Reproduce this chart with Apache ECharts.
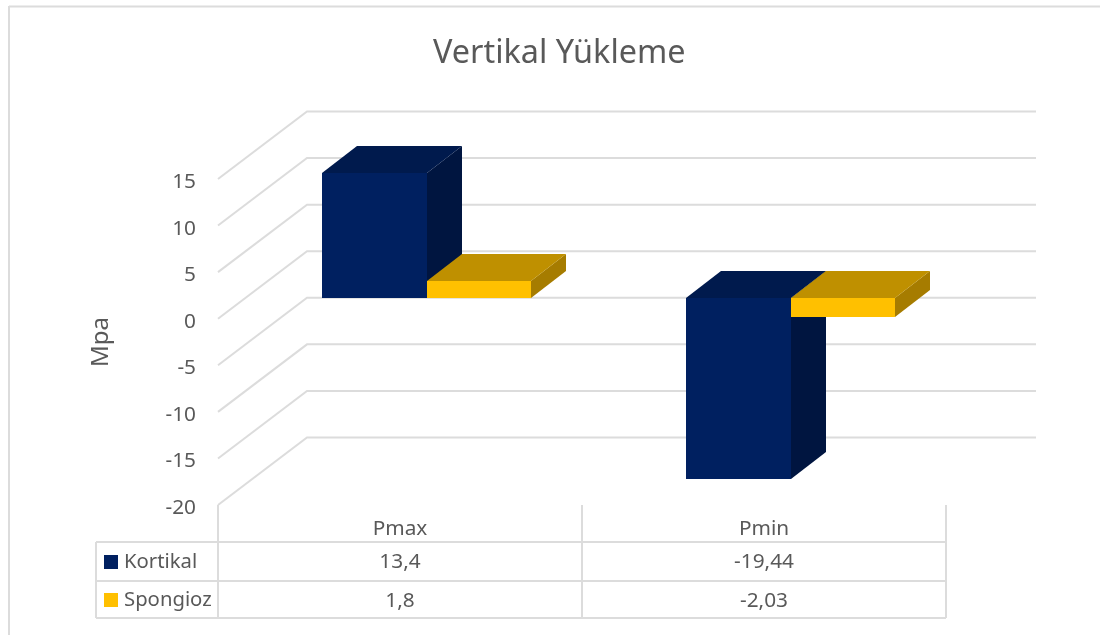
<!DOCTYPE html>
<html>
<head>
<meta charset="utf-8">
<style>html,body{margin:0;padding:0;background:#fff}#c{width:1100px;height:635px}</style>
<script src="https://cdn.jsdelivr.net/npm/echarts@6/dist/echarts.min.js"></script>
</head>
<body>
<div id="c"></div>
<script>
const categories = ['Pmax', 'Pmin'];
const kortikal = [13.4, -19.44];
const spongioz = [1.8, -2.03];
const seriesNames = ['Kortikal', 'Spongioz'];
const yTicks = [15, 10, 5, 0, -5, -10, -15, -20];

const FONT = '"Noto Sans", sans-serif';
const TEXT = '#595959', LINE = '#dcdcdc';
const LABEL_SIZE = 20.8;
const G = {left: 218, right: 946, top: 179, bottom: 505};
const WALL = {dx: 89, dy: 67.5, rightExt: 1036};
const BAR = {widthFrac: 0.2875, frontDx: 26.5, frontDy: 20.5, dx: 35, dy: 27};
const TABLE = {left: 96, head: 542, r1: 581, r2: 618, text1: 562, text2: 601};
const fmt = v => String(v).replace('.', ',');

function wall(params, api) {
  const y = api.coord([0, api.value(1)])[1];
  return {type: 'polyline', silent: true,
    shape: {points: [[G.left, y], [G.left + WALL.dx, y - WALL.dy], [WALL.rightExt, y - WALL.dy]]},
    style: {stroke: LINE, lineWidth: 2, fill: null}};
}
function bar3d(colors, side) {
  return function (params, api) {
    const cat = api.value(0), v = api.value(1);
    const c = api.coord([cat, 0]);
    const w = api.size([1, 0])[0] * BAR.widthFrac;
    const x0 = Math.round(c[0] + BAR.frontDx + (side < 0 ? -w : 0)), x1 = Math.round(c[0] + BAR.frontDx + (side < 0 ? 0 : w));
    const yv = Math.round(api.coord([cat, v])[1] - BAR.frontDy);
    const y0 = Math.round(c[1] - BAR.frontDy);
    const top = Math.min(y0, yv), bot = Math.max(y0, yv);
    const d = BAR.dx, e = BAR.dy;
    const poly = (pts, fill) => ({type: 'polygon', shape: {points: pts}, style: {fill: fill, stroke: null}});
    return {type: 'group', children: [
      poly([[x1, top], [x1 + d, top - e], [x1 + d, bot - e], [x1, bot]], colors[2]),
      poly([[x0, top], [x0 + d, top - e], [x1 + d, top - e], [x1, top]], colors[1]),
      poly([[x0, top], [x1, top], [x1, bot], [x0, bot]], colors[0])
    ]};
  };
}
const seg = (x1, y1, x2, y2) => ({type: 'line', silent: true, z: 1,
  shape: {x1, y1, x2, y2}, style: {stroke: LINE, lineWidth: 2}});
const txt = (t, x, y) => ({type: 'text', silent: true, z: 2, x, y,
  style: {text: t, fill: TEXT, font: LABEL_SIZE + 'px ' + FONT, textAlign: 'center', textVerticalAlign: 'middle'}});

const band = (G.right - G.left) / categories.length;
const cx = i => G.left + band * (i + 0.5);
const graphics = [
  {type: 'line', silent: true, z: 1, shape: {x1: 9, y1: 6, x2: 9, y2: 635}, style: {stroke: LINE, lineWidth: 2}},
  {type: 'line', silent: true, z: 1, shape: {x1: 9, y1: 6.5, x2: 1100, y2: 6.5}, style: {stroke: LINE, lineWidth: 2}},
  seg(TABLE.left, TABLE.head, G.right, TABLE.head),
  seg(TABLE.left, TABLE.r1, G.right, TABLE.r1),
  seg(TABLE.left, TABLE.r2, G.right, TABLE.r2),
  seg(TABLE.left, TABLE.head, TABLE.left, TABLE.r2),
  seg(G.left, G.bottom, G.left, TABLE.r2),
  seg(G.left + band, G.bottom, G.left + band, TABLE.r2),
  seg(G.right, G.bottom, G.right, TABLE.r2)
];
categories.forEach((c, i) => {
  graphics.push(txt(fmt(kortikal[i]), cx(i), TABLE.text1));
  graphics.push(txt(fmt(spongioz[i]), cx(i), TABLE.text2));
});

const chart = echarts.init(document.getElementById('c'), null, {renderer: 'canvas'});
chart.setOption({
  animation: false,
  backgroundColor: '#fff',
  textStyle: {fontFamily: FONT},
  title: {text: 'Vertikal Yükleme', left: 428, top: 33,
    textStyle: {color: TEXT, fontSize: 32.4, fontWeight: 'normal', fontFamily: FONT}},
  legend: {orient: 'vertical', left: 104, top: 552, itemWidth: 14, itemHeight: 14, itemGap: 18,
    selectedMode: false, icon: 'rect', padding: 0,
    textStyle: {color: TEXT, fontSize: 20.3, lineHeight: 20, fontFamily: FONT, padding: [0, 0, 0, 1]},
    data: seriesNames},
  grid: {left: G.left, top: G.top, width: G.right - G.left, height: G.bottom - G.top},
  xAxis: {type: 'category', data: categories, axisLine: {show: false}, axisTick: {show: false},
    splitLine: {show: false},
    axisLabel: {color: TEXT, fontSize: LABEL_SIZE, fontFamily: FONT, margin: 13.5}},
  yAxis: {type: 'value', min: -20, max: 15, interval: 5, name: 'Mpa', nameLocation: 'middle',
    nameGap: 105, nameRotate: 90,
    nameTextStyle: {color: TEXT, fontSize: 24, fontFamily: FONT},
    axisLine: {show: false}, axisTick: {show: false}, splitLine: {show: false},
    axisLabel: {color: TEXT, fontSize: LABEL_SIZE, fontFamily: FONT, margin: 22,
      formatter: '{n|{value}}',
      rich: {n: {color: TEXT, fontSize: LABEL_SIZE, fontFamily: FONT, padding: [6, 0, 0, 0]}}}},
  graphic: graphics,
  series: [
    {type: 'custom', silent: true, z: 1, renderItem: wall,
      data: yTicks.map(t => [0, t]), encode: {x: 0, y: 1}},
    {type: 'custom', name: seriesNames[0], z: 3, silent: true, itemStyle: {color: '#002060'},
      renderItem: bar3d(['#002060', '#001a4d', '#001540'], -1),
      data: kortikal.map((v, i) => [i, v]), encode: {x: 0, y: 1}},
    {type: 'custom', name: seriesNames[1], z: 4, silent: true, itemStyle: {color: '#FFC000'},
      renderItem: bar3d(['#FFC000', '#BF9000', '#A67C00'], 1),
      data: spongioz.map((v, i) => [i, v]), encode: {x: 0, y: 1}}
  ]
});
</script>
</body>
</html>
